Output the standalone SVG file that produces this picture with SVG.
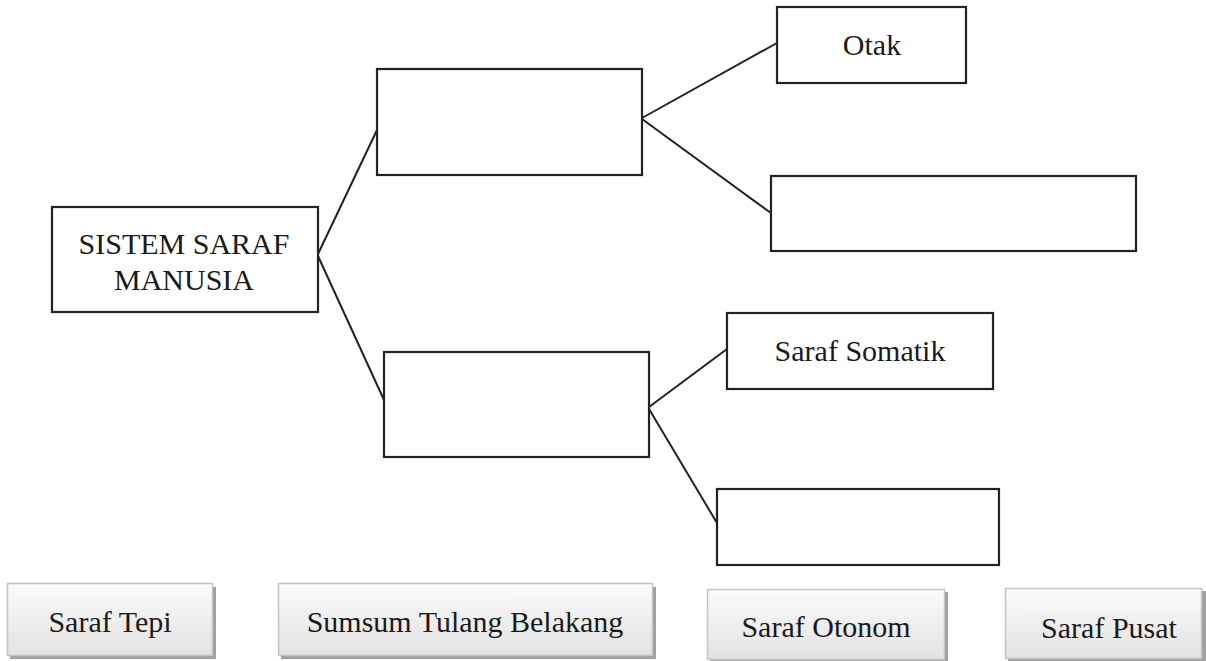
<svg xmlns="http://www.w3.org/2000/svg" width="1206" height="661" viewBox="0 0 1206 661">
<style>
.box{fill:#fff;stroke:#222;stroke-width:2.2}
.line{stroke:#222;stroke-width:2;fill:none}
.t{font-size:30px;fill:#1a1a1a;text-anchor:middle}
.btn{fill:url(#g);stroke:#c4c4c4;stroke-width:1.5}
.sh{fill:#a0a0a0}
</style>
<defs>
<linearGradient id="g" x1="0" y1="0" x2="0" y2="1">
<stop offset="0" stop-color="#fbfbfb"/>
<stop offset="1" stop-color="#e2e2e2"/>
</linearGradient>
</defs>
<rect width="1206" height="661" fill="#fff"/>
<g id="connectors">
<line class="line" x1="318" y1="254" x2="377" y2="130"/>
<line class="line" x1="318" y1="256" x2="384" y2="400"/>
<line class="line" x1="642" y1="118" x2="777" y2="43"/>
<line class="line" x1="642" y1="119" x2="771" y2="213"/>
<line class="line" x1="649" y1="407" x2="727" y2="349"/>
<line class="line" x1="649" y1="409" x2="717" y2="523"/>
</g>
<g font-family="Liberation Serif, Times New Roman, serif">
<g id="root"><rect class="box" x="52" y="207" width="266" height="105"/><text class="t" x="184" y="254">SISTEM SARAF</text><text class="t" x="184" y="290">MANUSIA</text></g>
<g id="boxA"><rect class="box" x="377" y="69" width="265" height="106"/></g>
<g id="otak"><rect class="box" x="777" y="7" width="189" height="76"/><text class="t" x="872" y="55">Otak</text></g>
<g id="boxB"><rect class="box" x="771" y="176" width="365" height="75"/></g>
<g id="boxC"><rect class="box" x="384" y="352" width="265" height="105"/></g>
<g id="somatik"><rect class="box" x="727" y="313" width="266" height="76"/><text class="t" x="860" y="361">Saraf Somatik</text></g>
<g id="boxD"><rect class="box" x="717" y="489" width="282" height="76"/></g>
<g id="opt1"><rect class="sh" x="10" y="587" width="206" height="72"/><rect class="btn" x="7.5" y="583.5" width="205" height="72"/><text class="t" x="110" y="632">Saraf Tepi</text></g>
<g id="opt2"><rect class="sh" x="281" y="587" width="375" height="72"/><rect class="btn" x="278.5" y="583.5" width="374" height="72"/><text class="t" x="465" y="632">Sumsum Tulang Belakang</text></g>
<g id="opt3"><rect class="sh" x="710" y="592" width="238" height="70"/><rect class="btn" x="707.5" y="589.5" width="237" height="70"/><text class="t" x="826" y="637">Saraf Otonom</text></g>
<g id="opt4"><rect class="sh" x="1008" y="591" width="198" height="70"/><rect class="btn" x="1005.5" y="588.5" width="196" height="70"/><text class="t" x="1109" y="638">Saraf Pusat</text></g>
</g>
</svg>
